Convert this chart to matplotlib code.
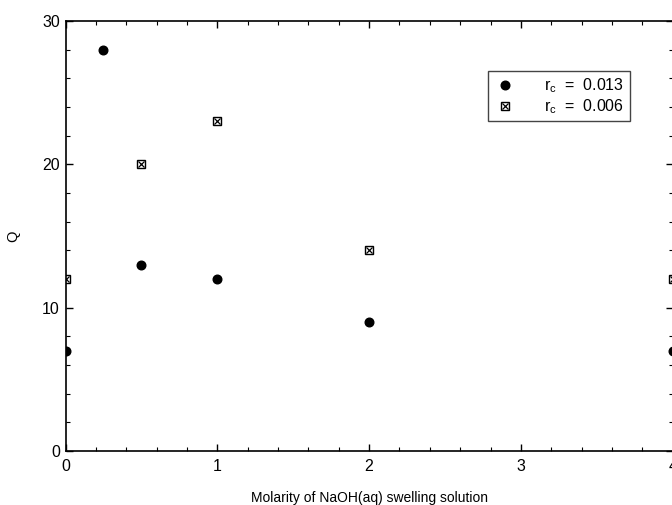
import matplotlib
matplotlib.use('Agg')
import matplotlib.pyplot as plt
from matplotlib.legend_handler import HandlerTuple
from matplotlib.ticker import MultipleLocator

plt.rcParams['font.family'] = ['Liberation Sans', 'DejaVu Sans']
plt.rcParams['mathtext.default'] = 'regular'

# Q vs NaOH molarity for two crosslink ratios
molarity_a = [0.0, 0.25, 0.5, 1.0, 2.0, 4.0]
q_a = [7, 28, 13, 12, 9, 7]          # r_c = 0.013

molarity_b = [0.0, 0.5, 1.0, 2.0, 4.0]
q_b = [12, 20, 23, 14, 12]           # r_c = 0.006

fig = plt.figure(figsize=(6.72, 5.05), dpi=100)
ax = fig.add_axes([0.0975, 0.107, 0.9035, 0.8515])

h1, = ax.plot(molarity_a, q_a, 'o', color='black', ms=6.2, ls='none')
hs, = ax.plot(molarity_b, q_b, 's', mfc='white', mec='black', mew=1.0, ms=6.3, ls='none')
hx, = ax.plot(molarity_b, q_b, 'x', color='black', mew=0.9, ms=5.0, ls='none')

ax.set_xlim(0, 4)
ax.set_ylim(0, 30)
ax.xaxis.set_major_locator(MultipleLocator(1))
ax.xaxis.set_minor_locator(MultipleLocator(0.2))
ax.yaxis.set_major_locator(MultipleLocator(10))
ax.yaxis.set_minor_locator(MultipleLocator(2))
ax.tick_params(which='both', direction='in', top=True, right=True, labelsize=11.5)
ax.tick_params(which='major', length=5, width=1)
ax.tick_params(which='minor', length=3, width=0.8)
ax.tick_params(axis='x', pad=6)
ax.tick_params(axis='y', pad=4)
for s in ax.spines.values():
    s.set_linewidth(1.2)

ax.set_xlabel('Molarity of NaOH(aq) swelling solution', fontsize=10, labelpad=12)
ax.set_ylabel('Q', fontsize=10.5, labelpad=16)

leg = ax.legend([h1, (hs, hx)],
                ['r$_c$  =  0.013', 'r$_c$  =  0.006'],
                handler_map={tuple: HandlerTuple(ndivide=1)},
                loc='upper right', bbox_to_anchor=(630 / 672, 1 - 70.5 / 505),
                bbox_transform=fig.transFigure,
                fancybox=False, framealpha=1, edgecolor='#444444',
                fontsize=11.5, handlelength=1.5, handletextpad=1.7,
                borderpad=0.35, labelspacing=0.15, borderaxespad=0)
leg.get_frame().set_linewidth(1.0)
leg.set_clip_on(False)

fig.savefig('out.png', dpi=100)
